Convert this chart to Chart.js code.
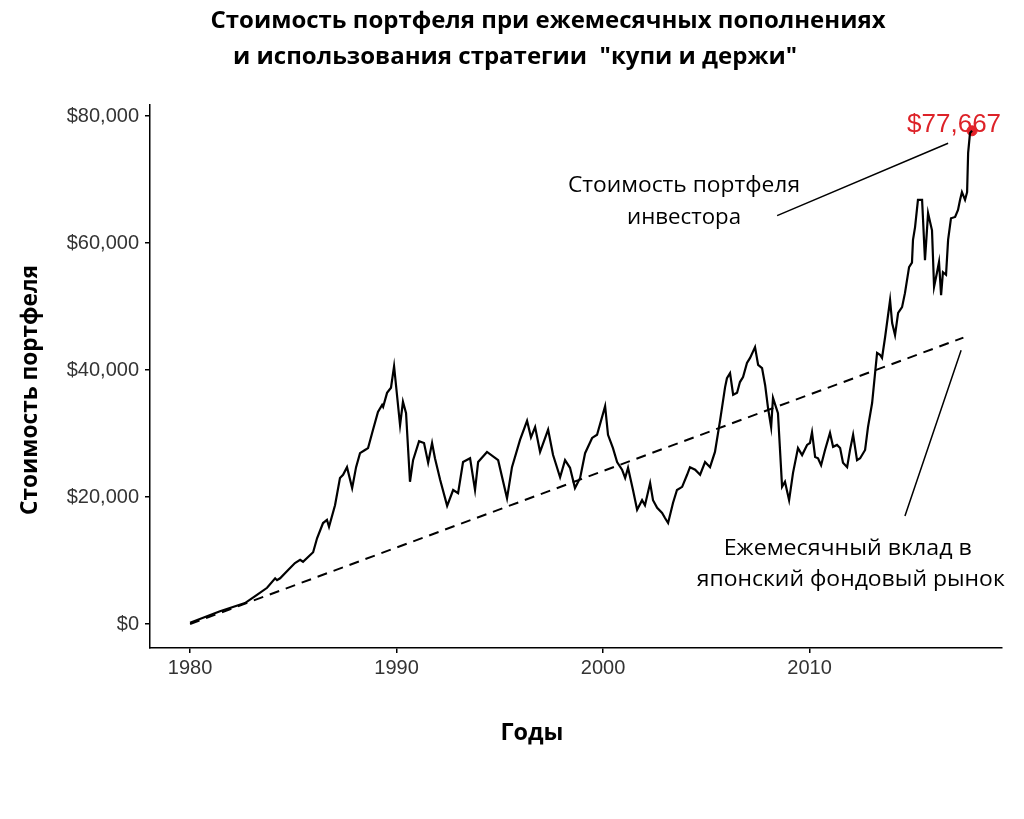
<!DOCTYPE html>
<html>
<head>
<meta charset="utf-8">
<script src="https://cdn.jsdelivr.net/npm/chart.js@4"></script>
<style>
  body { margin: 0; background: #fff; }
  canvas { display: block; }
</style>
</head>
<body>
<canvas id="chart" width="1024" height="819"></canvas>
<script>
// Portfolio value, years as decimal dates
const years = [
  1980.00, 1981.45, 1982.66, 1983.24, 1983.73, 1984.12, 1984.21, 1984.36, 1984.75, 1985.08,
  1985.33, 1985.47, 1985.96, 1986.15, 1986.44, 1986.63, 1986.73, 1987.02, 1987.26, 1987.41,
  1987.60, 1987.85, 1988.04, 1988.23, 1988.47, 1988.62, 1988.86, 1989.10, 1989.30, 1989.35,
  1989.54, 1989.73, 1989.88, 1990.17, 1990.31, 1990.46, 1990.65, 1990.80, 1991.09, 1991.33,
  1991.53, 1991.72, 1991.86, 1992.11, 1992.45, 1992.74, 1992.98, 1993.22, 1993.56, 1993.80,
  1993.95, 1994.38, 1994.92, 1995.35, 1995.59, 1995.98, 1996.32, 1996.51, 1996.71, 1996.95,
  1997.34, 1997.58, 1997.92, 1998.16, 1998.40, 1998.64, 1998.89, 1999.13, 1999.47, 1999.71,
  2000.10, 2000.24, 2000.48, 2000.68, 2000.92, 2001.07, 2001.21, 2001.45, 2001.65, 2001.89,
  2002.03, 2002.28, 2002.42, 2002.62, 2002.86, 2003.00, 2003.15, 2003.39, 2003.58, 2003.83,
  2004.07, 2004.21, 2004.46, 2004.70, 2004.94, 2005.18, 2005.42, 2005.57, 2005.67, 2005.91,
  2006.00, 2006.15, 2006.30, 2006.49, 2006.63, 2006.78, 2006.97, 2007.12, 2007.36, 2007.51,
  2007.70, 2007.85, 2007.99, 2008.14, 2008.23, 2008.47, 2008.67, 2008.81, 2009.01, 2009.20,
  2009.44, 2009.64, 2009.88, 2010.02, 2010.12, 2010.27, 2010.41, 2010.56, 2010.75, 2010.99,
  2011.14, 2011.33, 2011.48, 2011.62, 2011.82, 2011.96, 2012.11, 2012.30, 2012.45, 2012.69,
  2012.83, 2013.03, 2013.27, 2013.41, 2013.51, 2013.66, 2013.90, 2014.00, 2014.14, 2014.29,
  2014.48, 2014.62, 2014.82, 2014.96, 2015.01, 2015.11, 2015.25, 2015.45, 2015.59, 2015.74,
  2015.93, 2016.03, 2016.17, 2016.27, 2016.37, 2016.46, 2016.61, 2016.71, 2016.85, 2017.05,
  2017.19, 2017.29, 2017.38, 2017.53, 2017.63, 2017.68, 2017.77, 2017.87
];
const portfolio = [
  200, 2000, 3300, 4600, 5700, 7200, 6900, 7200, 8500, 9600,
  10100, 9800, 11300, 13500, 15900, 16400, 15300, 18700, 23000, 23500,
  24700, 21400, 24700, 26900, 27400, 27700, 30600, 33400, 34500, 34200,
  36400, 37200, 40600, 31300, 35000, 33200, 22400, 25800, 28800, 28500,
  25400, 28500, 26100, 22700, 18600, 21100, 20600, 25500, 26100, 21100,
  25500, 27100, 25800, 19800, 24700, 29000, 32000, 29400, 31000, 27100,
  30600, 26600, 23100, 25800, 24600, 21400, 23000, 26900, 29300, 29800,
  34300, 29800, 27700, 25500, 24300, 23000, 24600, 21100, 18000, 19500,
  18700, 22200, 19500, 18300, 17500, 16700, 15900, 19100, 21100, 21600,
  23500, 24700, 24300, 23500, 25500, 24700, 27100, 30100, 32100, 37300,
  38700, 39500, 36100, 36400, 38100, 38900, 41100, 41900, 43600, 40800,
  40300, 37600, 34000, 31000, 35600, 33200, 21600, 22400, 19500, 23800,
  27700, 26600, 28200, 28500, 30200, 26300, 26100, 25000, 27400, 30100,
  27900, 28200, 27700, 25400, 24700, 27400, 29800, 25800, 26100, 27400,
  31000, 34800, 42700, 42400, 41900, 45200, 51000, 47400, 45500, 49000,
  49900, 52100, 56200, 56900, 60500, 62500, 66800, 66800, 57300, 64700,
  62000, 53100, 55300, 57000, 51800, 55400, 55000, 60500, 63900, 64100,
  65200, 66800, 68000, 66800, 68000, 74200, 77300, 77667
];

// Cumulative monthly contributions (dashed line)
const contribYears = [1980, 2017.45];
const contributions = [0, 45100];

const finalYear = [2017.87];
const finalValue = [77667];

const xTicks = [1980, 1990, 2000, 2010];
const yTicks = [0, 20000, 40000, 60000, 80000];

const titleLines = ['Стоимость портфеля при ежемесячных пополнениях', 'и использования стратегии  "купи и держи"'];
const yTitle = 'Стоимость портфеля';
const xTitle = 'Годы';
const investorNote = ['Стоимость портфеля', 'инвестора'];
const contribNote = ['Ежемесячный вклад в', 'японский фондовый рынок'];

const zip = (xs, ys) => xs.map((x, i) => ({ x: x, y: ys[i] }));
const money = v => '$' + Number(v).toLocaleString('en-US');

// draw text squeezed horizontally to a target width
function fitText(ctx, text, cx, cy, width) {
  const w = ctx.measureText(text).width;
  ctx.save();
  ctx.translate(cx, cy);
  ctx.scale(width / w, 1);
  ctx.fillText(text, 0, 0);
  ctx.restore();
}

const textPlugin = {
  id: 'texts',
  beforeDatasetsDraw(chart) {
    const ctx = chart.ctx;
    const xs = chart.scales.x, ys = chart.scales.y;
    ctx.save();
    // leader lines
    ctx.strokeStyle = '#000';
    ctx.lineWidth = 1.5;
    ctx.beginPath();
    ctx.moveTo(xs.getPixelForValue(2008.43), ys.getPixelForValue(64300));
    ctx.lineTo(xs.getPixelForValue(2016.71), ys.getPixelForValue(75700));
    ctx.moveTo(xs.getPixelForValue(2014.62), ys.getPixelForValue(17000));
    ctx.lineTo(xs.getPixelForValue(2017.34), ys.getPixelForValue(43100));
    ctx.stroke();

    // value label for the last point
    ctx.fillStyle = '#dd2228';
    ctx.font = '26px "Liberation Sans", Arial, sans-serif';
    ctx.textAlign = 'center';
    ctx.textBaseline = 'middle';
    ctx.fillText(money(finalValue[0]), xs.getPixelForValue(2017.0), ys.getPixelForValue(78600));
    ctx.restore();
  },
  afterDraw(chart) {
    const ctx = chart.ctx;
    const xs = chart.scales.x;
    ctx.save();
    ctx.fillStyle = '#000';
    ctx.textAlign = 'center';
    ctx.textBaseline = 'middle';

    ctx.font = 'bold 24px "Open Sans", sans-serif';
    fitText(ctx, titleLines[0], 548, 21, 675);
    fitText(ctx, titleLines[1], 515, 57, 564);

    fitText(ctx, xTitle, 532, 733, 63);
    ctx.save();
    ctx.translate(30, 390);
    ctx.rotate(-Math.PI / 2);
    fitText(ctx, yTitle, 0, 0, 250);
    ctx.restore();

    ctx.font = '22px "Open Sans", sans-serif';
    const ax = xs.getPixelForValue(2003.92);
    fitText(ctx, investorNote[0], ax, 186, 232);
    fitText(ctx, investorNote[1], ax, 218, 114);
    const bx = xs.getPixelForValue(2011.85);
    fitText(ctx, contribNote[0], bx, 549, 248);
    fitText(ctx, contribNote[1], bx + 3, 580, 308);
    ctx.restore();
  }
};

new Chart(document.getElementById('chart'), {
  type: 'line',
  data: {
    datasets: [
      {
        data: zip(years, portfolio),
        borderColor: '#000',
        borderWidth: 2.2,
        pointRadius: 0,
        tension: 0
      },
      {
        data: zip(contribYears, contributions),
        borderColor: '#000',
        borderWidth: 2,
        borderDash: [10, 7],
        pointRadius: 0
      },
      {
        data: zip(finalYear, finalValue),
        showLine: false,
        pointRadius: 5,
        pointBackgroundColor: '#e3232a',
        pointBorderColor: '#e3232a'
      }
    ]
  },
  options: {
    responsive: false,
    animation: false,
    layout: { padding: { left: 0, top: 105, right: 22, bottom: 0 } },
    plugins: { legend: { display: false }, tooltip: { enabled: false } },
    scales: {
      x: {
        type: 'linear',
        min: 1978.06,
        max: 2019.32,
        afterBuildTicks: s => { s.ticks = xTicks.map(v => ({ value: v })); },
        afterFit: s => { s.height = 171; },
        ticks: {
          callback: v => String(v),
          font: { family: '"Liberation Sans", Arial', size: 20 },
          color: '#333',
          padding: 3
        },
        grid: { drawOnChartArea: false, tickLength: 5, color: '#000', lineWidth: 1.5 },
        border: { color: '#000', width: 1.5 }
      },
      y: {
        min: -3780,
        max: 81730,
        afterBuildTicks: s => { s.ticks = yTicks.map(v => ({ value: v })); },
        afterFit: s => { s.width = 150; },
        ticks: {
          callback: v => money(v),
          font: { family: '"Liberation Sans", Arial', size: 20 },
          color: '#333',
          padding: 6
        },
        grid: { drawOnChartArea: false, tickLength: 5, color: '#000', lineWidth: 1.5 },
        border: { color: '#000', width: 1.5 }
      }
    }
  },
  plugins: [textPlugin]
});
</script>
</body>
</html>
